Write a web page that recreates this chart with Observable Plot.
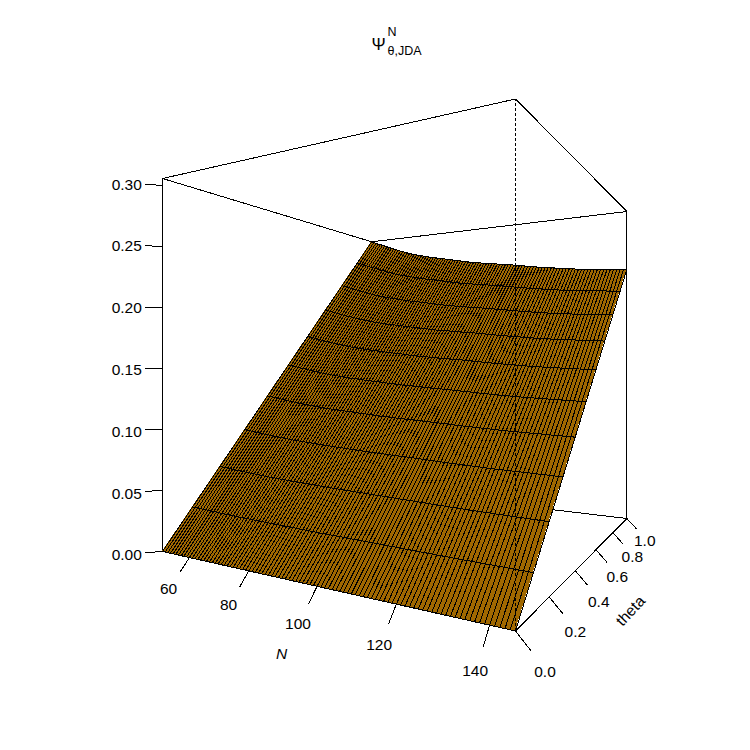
<!DOCTYPE html>
<html>
<head>
<meta charset="utf-8">
<script src="https://cdn.jsdelivr.net/npm/d3@7"></script>
<script src="https://cdn.jsdelivr.net/npm/@observablehq/plot@0.6"></script>
<style>html,body{margin:0;padding:0;background:#fff}svg{display:block}</style>
</head>
<body>
<div id="chart"></div>
<script>
// Surface grid: N in steps of 1, theta in steps of 0.1
const nValues = [50,51,52,53,54,55,56,57,58,59,60,61,62,63,64,65,66,67,68,69,70,71,72,73,74,75,76,77,78,79,80,81,82,83,84,85,86,87,88,89,90,91,92,93,94,95,96,97,98,99,100,101,102,103,104,105,106,107,108,109,110,111,112,113,114,115,116,117,118,119,120,121,122,123,124,125,126,127,128,129,130,131,132,133,134,135,136,137,138,139,140,141,142,143,144,145];
const thetaValues = [0,0.1,0.2,0.3,0.4,0.5,0.6,0.7,0.8,0.9,1];
// Height of the surface along its theta = 1 edge, one value per N.
// The surface is straight in theta: every edge at fixed N rises linearly from 0.
const psiAtThetaOne = [
  .3057,.3045,.3033,.3021,.3009,.2997,.2985,.2973,.2961,.2949,
  .2937,.2926,.2915,.2904,.2893,.2883,.2873,.2863,.2853,.2845,
  .2838,.2830,.2822,.2814,.2807,.2800,.2793,.2786,.2780,.2773,
  .2767,.2761,.2755,.2748,.2742,.2736,.2730,.2724,.2718,.2711,
  .2705,.2699,.2692,.2686,.2682,.2677,.2673,.2668,.2664,.2659,
  .2654,.2650,.2646,.2641,.2637,.2633,.2629,.2624,.2619,.2614,
  .2609,.2604,.2598,.2593,.2588,.2583,.2578,.2573,.2569,.2564,
  .2560,.2556,.2552,.2548,.2543,.2539,.2535,.2531,.2527,.2524,
  .2521,.2518,.2515,.2512,.2509,.2507,.2504,.2502,.2499,.2496,
  .2493,.2491,.2488,.2486,.2483,.2481];

const nLim = [50,145], thetaLim = [0,1], zLim = [0,0.3057];
const nTicks = [60,80,100,120,140];
const thetaTicks = [0,0.2,0.4,0.6,0.8,1];
const zTicks = [0,0.05,0.1,0.15,0.2,0.25,0.3];

// Perspective camera, in the unit cube of the three limits
const cam = {x0:162, xu:199.07, xv:400, wu:-0.2989, wv:0.5139, horizon:364.5, h:373};
const tickLen = 0.03;
const U = n => (n-nLim[0])/(nLim[1]-nLim[0]);
const W = z => (z-zLim[0])/(zLim[1]-zLim[0]);
const px = (u,v) => (cam.x0+cam.xu*u+cam.xv*v)/(1+cam.wu*u+cam.wv*v);
const py = (u,v,w) => cam.horizon+cam.h*(0.5-w)/(1+cam.wu*u+cam.wv*v);

const surfaceEdges = nValues.map((n,i)=>({u:U(n),top:W(psiAtThetaOne[i])}));
const crossLines = thetaValues.flatMap(t=>surfaceEdges.map(e=>({t,u:e.u,w:t*e.top})));

const corner = (a,b,c)=>({u:a,v:b,w:c});
const boxEdges = [
  [corner(0,0,1),corner(1,0,1)],[corner(1,0,1),corner(1,1,1)],
  [corner(0,0,1),corner(0,1,1)],[corner(0,1,1),corner(1,1,1)],
  [corner(0,0,0),corner(0,0,1)],[corner(1,1,0),corner(1,1,1)],
  [corner(0,0,0),corner(1,0,0)],[corner(1,0,0),corner(1,1,0)],
  [corner(1,1,0),corner(0,1,0)]
];
const hiddenEdge = [[corner(1,0,0),corner(1,0,1)]];

const nAxis = nTicks.map(n=>({label:String(n),a:corner(U(n),0,0),d:[0,-tickLen,-tickLen]}));
const thetaAxis = thetaTicks.map(t=>({label:t.toFixed(1),a:corner(1,t,0),d:[tickLen,0,-tickLen]}));
const zAxis = zTicks.map(z=>({label:z.toFixed(2),a:corner(0,0,W(z)),d:[-tickLen,-tickLen,0]}));
const allTicks = [...nAxis,...thetaAxis,...zAxis];
const off = (t,k)=>({u:t.a.u+k*t.d[0],v:t.a.v+k*t.d[1],w:t.a.w+k*t.d[2]});
const P = p=>px(p.u,p.v), Q = p=>py(p.u,p.v,p.w);

const axisTitles = [
  {label:"N", p:corner(0.52,-0.11,-0.11), rotate:0, style:"italic"},
  {label:"theta", p:corner(1.11,0.5,-0.11), rotate:-47, style:"normal"}
];
const title = [
  {s:"Ψ", size:17, at:[371,44]},
  {s:"N", size:12.5, at:[387,31]},
  {s:"θ,JDA", size:12.5, at:[387,50]}
];

const crisp = {shapeRendering:"crispEdges"};
const chart = Plot.plot({
  width:750, height:750, margin:0,
  x:{domain:[0,750], range:[0,750], axis:null},
  y:{domain:[0,750], range:[0,750], axis:null},
  style:{fontFamily:"'Liberation Sans', Arial, sans-serif", background:"#fff", color:"#000"},
  marks:[
    Plot.link(boxEdges,{x1:d=>P(d[0]),y1:d=>Q(d[0]),x2:d=>P(d[1]),y2:d=>Q(d[1]),stroke:"#000",strokeWidth:1,...crisp}),
    Plot.area(surfaceEdges,{
      x1:d=>px(d.u,0), y1:d=>py(d.u,0,0),
      x2:d=>px(d.u,1), y2:d=>py(d.u,1,d.top),
      fill:"#a06800", ...crisp
    }),
    Plot.link(surfaceEdges,{
      x1:d=>px(d.u,0), y1:d=>py(d.u,0,0),
      x2:d=>px(d.u,1), y2:d=>py(d.u,1,d.top),
      stroke:"#000", strokeWidth:1, ...crisp
    }),
    Plot.line(crossLines,{x:d=>px(d.u,d.t),y:d=>py(d.u,d.t,d.w),z:"t",stroke:"#000",strokeWidth:1,curve:"linear",...crisp}),
    Plot.link(hiddenEdge,{x1:d=>P(d[0]),y1:d=>Q(d[0]),x2:d=>P(d[1]),y2:d=>Q(d[1]),stroke:"#000",strokeWidth:1,strokeDasharray:"3 2",...crisp}),
    Plot.link(allTicks,{x1:d=>P(d.a),y1:d=>Q(d.a),x2:d=>P(off(d,1)),y2:d=>Q(off(d,1)),stroke:"#000",strokeWidth:1,...crisp}),
    Plot.text(allTicks,{x:d=>P(off(d,2)),y:d=>Q(off(d,2)),text:"label",fontSize:15.5,fill:"#000",dx:-1.5,dy:1.5}),
    ...axisTitles.map(a=>Plot.text([a],{x:d=>P(d.p),y:d=>Q(d.p),text:"label",fontSize:15.5,fontStyle:a.style,rotate:a.rotate,fill:"#000"})),
    ...title.map(t=>Plot.text([t],{x:d=>d.at[0],y:d=>d.at[1],text:"s",fontSize:t.size,textAnchor:"start",fill:"#000"}))
  ]
});
document.getElementById("chart").appendChild(chart);
</script>
</body>
</html>
